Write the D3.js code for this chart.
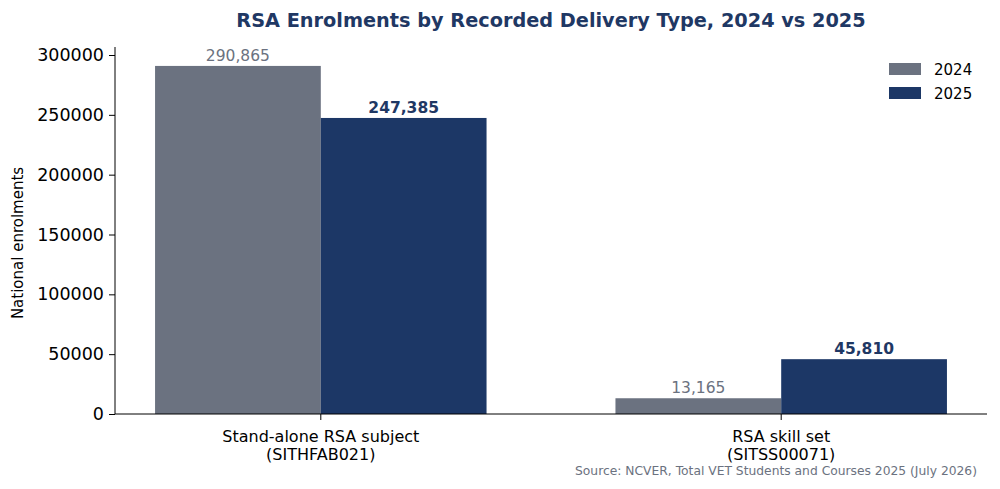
<!DOCTYPE html>
<html>
<head>
<meta charset="utf-8">
<script src="https://cdn.jsdelivr.net/npm/d3@7"></script>
<style>
  body { margin: 0; background: #fff; }
  text { font-family: "DejaVu Sans", sans-serif; }
</style>
</head>
<body>
<script>
// data
var categories = ["Stand-alone RSA subject\n(SITHFAB021)", "RSA skill set\n(SITSS00071)"];
var years = ["2024", "2025"];
var values2024 = [290865, 13165];
var values2025 = [247385, 45810];
var yTicks = [0, 50000, 100000, 150000, 200000, 250000, 300000];

var colors = { "2024": "#6b7280", "2025": "#1c3766" };
var navy = "#1f3864";

var width = 1000, height = 489;
var margin = { left: 115, right: 13, top: 47, bottom: 75 };

var svg = d3.select("body").append("svg")
    .attr("width", width)
    .attr("height", height);

var x = d3.scaleLinear()
    .domain([-0.447, 1.447])
    .range([margin.left, width - margin.right]);

var y = d3.scaleLinear()
    .domain([0, 300000])
    .range([height - margin.bottom, 55]);

var barW = x(0.36) - x(0);

// title
svg.append("text")
    .attr("x", 551)
    .attr("y", 27)
    .attr("text-anchor", "middle")
    .style("font-size", "19.3px")
    .style("font-weight", "bold")
    .style("fill", navy)
    .text("RSA Enrolments by Recorded Delivery Type, 2024 vs 2025");

// bars
var series = [
  { year: "2024", vals: values2024, off: -0.18 },
  { year: "2025", vals: values2025, off: 0.18 }
];

series.forEach(function(s) {
    svg.selectAll(".bar" + s.year)
        .data(s.vals)
        .enter().append("rect")
        .attr("x", function(d, i) { return x(i + s.off) - barW / 2; })
        .attr("y", function(d) { return y(d); })
        .attr("width", barW)
        .attr("height", function(d) { return y(0) - y(d); })
        .attr("fill", colors[s.year]);

    svg.selectAll(".lab" + s.year)
        .data(s.vals)
        .enter().append("text")
        .attr("x", function(d, i) { return x(i + s.off); })
        .attr("y", function(d) { return y(d) - 5; })
        .attr("text-anchor", "middle")
        .style("font-size", "15.5px")
        .style("font-weight", s.year == "2025" ? "bold" : "normal")
        .style("fill", s.year == "2025" ? navy : "#6b7280")
        .text(function(d) { return d3.format(",")(d); });
});

// y axis
var yAxis = svg.append("g")
    .attr("transform", "translate(" + margin.left + ",0)")
    .call(d3.axisLeft(y).tickValues(yTicks).tickFormat(d3.format("d")).tickSizeOuter(0).tickSize(6).tickPadding(5));
yAxis.selectAll("text").style("font-size", "17.5px").style("fill", "#000");
yAxis.select(".domain").attr("d", "M0," + (y(0)) + "V47").attr("stroke", "#000");

// x axis
var xAxis = svg.append("g")
    .attr("transform", "translate(0," + y(0) + ")");
xAxis.append("line")
    .attr("x1", margin.left).attr("x2", width - margin.right)
    .attr("stroke", "#000");
categories.forEach(function(c, i) {
    xAxis.append("line")
        .attr("x1", x(i)).attr("x2", x(i))
        .attr("y1", 0).attr("y2", 6)
        .attr("stroke", "#000");
    var lines = c.split("\n");
    lines.forEach(function(l, j) {
        xAxis.append("text")
            .attr("x", x(i))
            .attr("y", 28 + j * 18)
            .attr("text-anchor", "middle")
            .style("font-size", "16px")
            .style("fill", "#000")
            .text(l);
    });
});

// y label
svg.append("text")
    .attr("transform", "translate(23,243) rotate(-90)")
    .attr("text-anchor", "middle")
    .style("font-size", "15px")
    .text("National enrolments");

// legend
var legend = svg.append("g").attr("transform", "translate(889,63)");
years.forEach(function(yr, i) {
    legend.append("rect")
        .attr("x", 0).attr("y", i * 24)
        .attr("width", 32).attr("height", 12)
        .attr("fill", colors[yr]);
    legend.append("text")
        .attr("x", 45).attr("y", i * 24 + 12)
        .style("font-size", "15px")
        .text(yr);
});

// source
svg.append("text")
    .attr("x", 977)
    .attr("y", 475)
    .attr("text-anchor", "end")
    .style("font-size", "12.3px")
    .style("fill", "#6b7280")
    .text("Source: NCVER, Total VET Students and Courses 2025 (July 2026)");
</script>
</body>
</html>
